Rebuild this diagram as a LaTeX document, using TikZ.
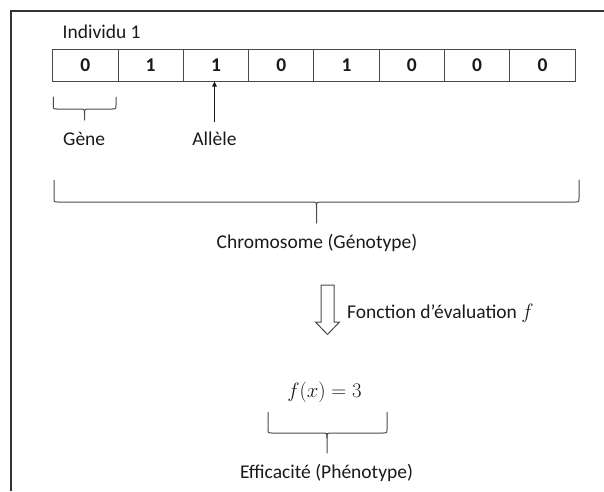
\documentclass[tikz,border=0pt]{standalone}
\usepackage{fontspec}
\setmainfont{Carlito}
\usetikzlibrary{arrows.meta}
\definecolor{txt}{HTML}{1A1A1A}
\definecolor{ln}{HTML}{4A4A4A}
\newcommand\hbr[6]{% left, right, tip, top, horizontal, bottom
  \draw[bracestyle] (#1,#4) -- (#1,#5-4) .. controls (#1,#5) .. (#1+4,#5) -- (#3-5,#5) .. controls (#3,#5) .. (#3,#5+5) -- (#3,#6);
  \draw[bracestyle] (#2,#4) -- (#2,#5-4) .. controls (#2,#5) .. (#2-4,#5) -- (#3+5,#5) .. controls (#3,#5) .. (#3,#5+5);
}
\begin{document}
\begin{tikzpicture}[x=1pt,y=-1pt,
  every node/.style={text=txt,font=\fontsize{19.5}{23}\selectfont,inner sep=0pt},
  cell/.style={draw=ln,line width=1pt,minimum width=65.3pt,minimum height=31.7pt,font=\fontsize{19.5}{23}\selectfont\bfseries},
  bracestyle/.style={draw=ln,line width=1pt,line cap=round},
  arr/.style={draw=txt,line width=1pt,-{Triangle[length=5pt,width=4.5pt]}},
  frame/.style={draw=black!80,line width=1.6pt}]
\useasboundingbox (0,0) rectangle (604,491);
\draw[frame] (604,11) -- (11,11) -- (11,491);
\node[anchor=base west] (indiv) at (62.5,38) {Individu 1};
\foreach \v [count=\i] in {0,1,1,0,1,0,0,0}{
  \node[cell] (c\i) at ({52.7+32.65+(\i-1)*65.3},65.2) {\v};
}
% gene brace
\hbr{53.3}{116}{84.5}{97}{109}{120}
\node[anchor=base west] (gene) at (63,145) {Gène};
\node[anchor=base] (allele) at (214.5,145) {Allèle};
\coordinate (astart) at (214.5,122);
\draw[arr] (astart) -- (astart |- c3.south);
% chromosome brace
\hbr{54}{579}{316.5}{180}{202}{223}
\node[anchor=base] (chrom) at (317,248) {Chromosome (Génotype)};
% block arrow
\draw[draw=ln,line width=1pt,fill=white,line join=miter]
  (321,285) -- (334,285) -- (334,322) -- (339.5,322) -- (327.5,334.5) -- (315.5,322) -- (321,322) -- cycle;
\node[anchor=base west] (fonc) at (347,318) {Fonction d’évaluation $f$};
\node[anchor=base] (fx) at (324.5,397) {$f(x)=3$};
\hbr{268}{387}{327}{412}{433}{453}
\node[anchor=base] (eff) at (326.5,478) {Efficacité (Phénotype)};
\end{tikzpicture}
\end{document}
